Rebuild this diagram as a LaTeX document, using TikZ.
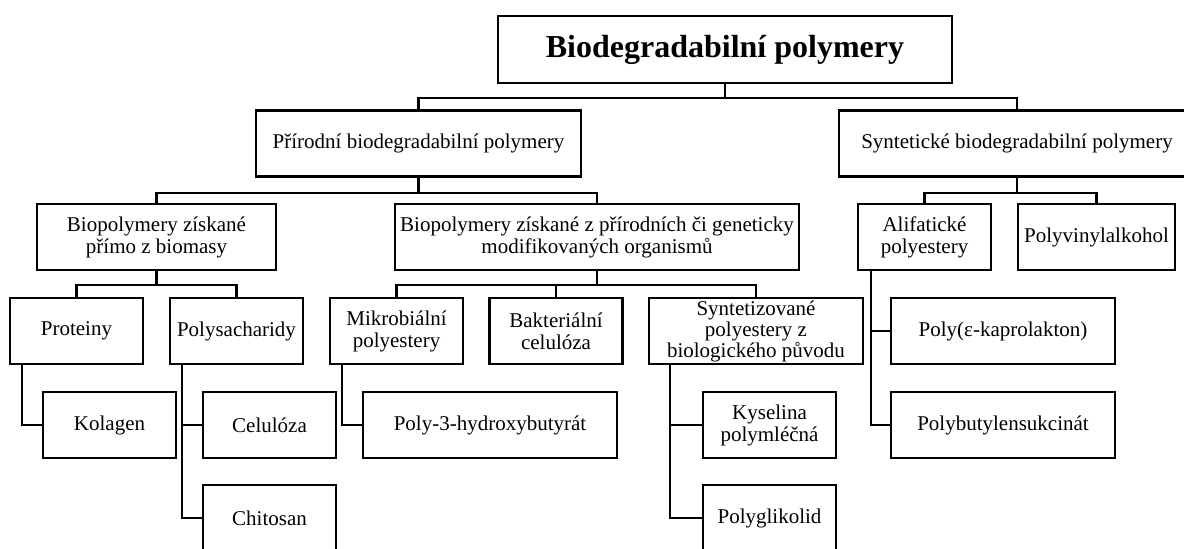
\documentclass[tikz,border=0pt]{standalone}
\usepackage{fontspec}
\setmainfont{Liberation Serif}
\usepackage{tikz}

\begin{document}
\begin{tikzpicture}[x=0.5pt, y=-0.5pt,
  polybox/.style={draw, line width=1.2pt, align=center, inner sep=1pt,
    font=\fontsize{10.5}{11}\selectfont, minimum height=33pt},
  link/.style={line width=1.2pt}]
  \useasboundingbox (0,0) rectangle (1184,548);
  \clip (0,0) rectangle (1184,548);

  \node[polybox, minimum width=227pt, minimum height=33.5pt, font=\fontsize{16}{18}\selectfont\bfseries] (top) at (725,49.5) {Biodegradabilní polymery};

  \node[polybox, minimum width=162.5pt] (prir) at (418.5,143.5) {Přírodní biodegradabilní polymery};
  \node[polybox, minimum width=178pt] (synt) at (1017,143.5) {Syntetické biodegradabilní polymery};

  \node[polybox, minimum width=119.5pt] (primo) at (156.5,237) {Biopolymery získané\\přímo z biomasy};
  \node[polybox, minimum width=202pt, inner xsep=0pt] (organ) at (597,237) {Biopolymery získané z přírodních či geneticky\\modifikovaných organismů};
  \node[polybox, minimum width=66.5pt] (alif) at (924.5,237) {Alifatické\\polyestery};
  \node[polybox, minimum width=78.5pt] (pva) at (1096.5,237) {Polyvinylalkohol};

  \node[polybox, minimum width=66.5pt] (protein) at (76.5,331) {Proteiny};
  \node[polybox, minimum width=66.5pt] (polysach) at (236.5,331) {Polysacharidy};
  \node[polybox, minimum width=66.5pt] (mikro) at (396.5,331) {Mikrobiální\\polyestery};
  \node[polybox, minimum width=66.5pt] (bakter) at (556,331) {Bakteriální\\celulóza};
  \node[polybox, minimum width=107pt, inner ysep=0pt, font=\fontsize{10.5}{10.5}\selectfont] (syntez) at (756,331) {Syntetizované\\polyestery z\\biologického původu};
  \node[polybox, minimum width=112pt] (pcl) at (1003,331) {Poly(ε-kaprolakton)};

  \node[polybox, minimum width=66.5pt] (kolagen) at (109.5,425) {Kolagen};
  \node[polybox, minimum width=66.5pt] (celul) at (269.5,425) {Celulóza};
  \node[polybox, minimum width=127pt] (phb) at (490,425) {Poly-3-hydroxybutyrát};
  \node[polybox, minimum width=66.5pt] (kysel) at (769.5,425) {Kyselina\\polymléčná};
  \node[polybox, minimum width=112pt] (pbs) at (1003,425) {Polybutylensukcinát};

  \node[polybox, minimum width=66.5pt] (chitosan) at (269.5,518) {Chitosan};
  \node[polybox, minimum width=66.5pt] (pga) at (769.5,518) {Polyglikolid};

  \foreach \kid in {prir,synt} \draw[link] (top.south) -- ++(0,14) -| (\kid.north);
  \foreach \kid in {primo,organ} \draw[link] (prir.south) -- ++(0,15) -| (\kid.north);
  \foreach \kid in {alif,pva} \draw[link] (synt.south) -- ++(0,15) -| (\kid.north);
  \foreach \kid in {protein,polysach} \draw[link] (primo.south) -- ++(0,14) -| (\kid.north);
  \foreach \kid in {mikro,bakter,syntez} \draw[link] (organ.south) -- ++(0,14) -| (\kid.north);

  \draw[link] ([xshift=6.5pt]protein.south west) |- (kolagen.west);
  \foreach \kid in {celul,chitosan} \draw[link] ([xshift=6.5pt]polysach.south west) |- (\kid.west);
  \draw[link] ([xshift=6.5pt]mikro.south west) |- (phb.west);
  \foreach \kid in {kysel,pga} \draw[link] ([xshift=11pt]syntez.south west) |- (\kid.west);
  \foreach \kid in {pcl,pbs} \draw[link] ([xshift=7pt]alif.south west) |- (\kid.west);
\end{tikzpicture}
\end{document}
